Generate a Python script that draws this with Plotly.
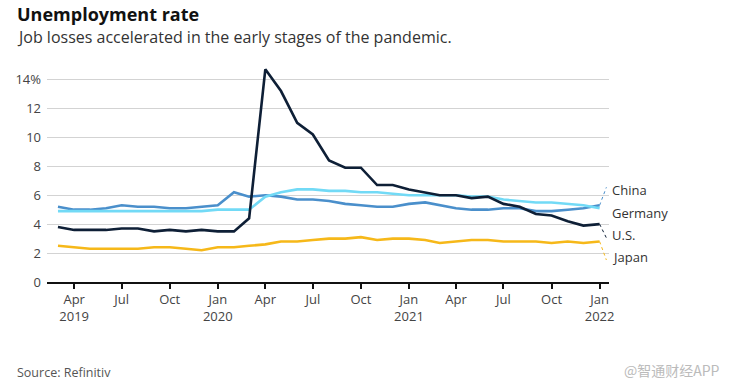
import pandas as pd
import plotly.graph_objects as go

months = pd.date_range("2019-03-01", "2022-01-01", freq="MS")

us = [3.8, 3.6, 3.6, 3.6, 3.7, 3.7, 3.5, 3.6, 3.5, 3.6,
      3.5, 3.5, 4.4, 14.7, 13.2, 11.0, 10.2, 8.4, 7.9, 7.9, 6.7, 6.7,
      6.4, 6.2, 6.0, 6.0, 5.8, 5.9, 5.4, 5.2, 4.7, 4.6, 4.2, 3.9,
      4.0]
china = [5.2, 5.0, 5.0, 5.1, 5.3, 5.2, 5.2, 5.1, 5.1, 5.2,
         5.3, 6.2, 5.9, 6.0, 5.9, 5.7, 5.7, 5.6, 5.4, 5.3, 5.2, 5.2,
         5.4, 5.5, 5.3, 5.1, 5.0, 5.0, 5.1, 5.1, 4.9, 4.9, 5.0, 5.1,
         5.3]
germany = [4.9, 4.9, 4.9, 4.9, 4.9, 4.9, 4.9, 4.9, 4.9, 4.9,
           5.0, 5.0, 5.0, 5.9, 6.2, 6.4, 6.4, 6.3, 6.3, 6.2, 6.2, 6.1,
           6.0, 6.0, 6.0, 6.0, 5.9, 5.9, 5.7, 5.6, 5.5, 5.5, 5.4, 5.3,
           5.1]
japan = [2.5, 2.4, 2.3, 2.3, 2.3, 2.3, 2.4, 2.4, 2.3, 2.2,
         2.4, 2.4, 2.5, 2.6, 2.8, 2.8, 2.9, 3.0, 3.0, 3.1, 2.9, 3.0,
         3.0, 2.9, 2.7, 2.8, 2.9, 2.9, 2.8, 2.8, 2.8, 2.7, 2.8, 2.7,
         2.8]

x_tick_dates = pd.date_range("2019-04-01", "2022-01-01", freq="QS")
x_tick_text = ["Apr<br>2019", "Jul", "Oct", "Jan<br>2020", "Apr", "Jul", "Oct",
               "Jan<br>2021", "Apr", "Jul", "Oct", "Jan<br>2022"]
y_tick_vals = [0, 2, 4, 6, 8, 10, 12, 14]
y_tick_text = ["0", "2", "4", "6", "8", "10", "12", "14%"]

series = [
    ("China", china, "#4a8fcb", 6.35),
    ("Germany", germany, "#72daf6", 4.78),
    ("U.S.", us, "#0e1f36", 3.25),
    ("Japan", japan, "#f6b819", 1.72),
]
draw_order = ["Japan", "China", "Germany", "U.S."]

FONT = "Open Sans"

# plot area spans page x 47..609, y 64.5..282
W, H = 731, 388
PL, PR, PT, PB = 47, 609, 64.5, 282
PW, PH = PR - PL, PB - PT


def px(xp):
    return (xp - PL) / PW


def py(yp):
    return (PB - yp) / PH


fig = go.Figure()
lookup = {s[0]: s for s in series}
for name in draw_order:
    n, vals, col, _ = lookup[name]
    fig.add_trace(go.Scatter(x=months, y=vals, mode="lines", name=n,
                             line=dict(color=col, width=2.6),
                             hoverinfo="skip", showlegend=False))

last = months[-1]
conn_end = last + pd.Timedelta(days=13)
shapes = []
annotations = []
for n, vals, col, label_y in series:
    if n != "Germany":
        shapes.append(dict(type="line", xref="x", yref="y",
                           x0=last, y0=vals[-1], x1=conn_end,
                           y1=label_y + (0.2 if label_y > vals[-1] else -0.2),
                           line=dict(color=col, width=1, dash="dot")))
    annotations.append(dict(xref="x", yref="y", x=last, y=label_y, xshift=10,
                            text=n, showarrow=False, xanchor="left", yanchor="middle",
                            font=dict(family=FONT, size=13, color="#333333")))

annotations += [
    dict(xref="paper", yref="paper", x=px(15), y=py(13), xanchor="left", yanchor="middle",
         text="<b>Unemployment rate</b>", showarrow=False,
         font=dict(family=FONT, size=18, color="#111111")),
    dict(xref="paper", yref="paper", x=px(15), y=py(36), xanchor="left", yanchor="middle",
         text="Job losses accelerated in the early stages of the pandemic.", showarrow=False,
         font=dict(family=FONT, size=16, color="#333333")),
    dict(xref="paper", yref="paper", x=px(15), y=py(373), xanchor="left", yanchor="middle",
         text="Source: Refinitiv", showarrow=False,
         font=dict(family=FONT, size=12.5, color="#555555")),
    dict(xref="paper", yref="paper", x=px(722), y=py(370), xanchor="right", yanchor="middle",
         text="@智通财经APP", showarrow=False,
         font=dict(family="Noto Sans CJK SC", size=14, color="#bbbbbb")),
]

fig.update_layout(
    width=W, height=H,
    margin=dict(l=PL, r=W - PR, t=PT, b=H - PB, pad=0),
    paper_bgcolor="white", plot_bgcolor="white",
    font=dict(family=FONT, color="#444444"),
    shapes=shapes, annotations=annotations,
    xaxis=dict(type="date", range=["2019-02-08", "2022-01-19"],
               tickvals=x_tick_dates, ticktext=x_tick_text,
               showgrid=False, showline=True, linecolor="#111111", linewidth=1.5,
               ticks="outside", ticklen=5, tickwidth=1.5, tickcolor="#111111",
               tickfont=dict(family=FONT, size=13, color="#444444"), zeroline=False),
    yaxis=dict(range=[0, 15], tickvals=y_tick_vals, ticktext=y_tick_text,
               showgrid=True, gridcolor="#d3d3d3", gridwidth=1, zeroline=False,
               showline=False, ticks="", ticklabelstandoff=5,
               tickfont=dict(family=FONT, size=13, color="#444444")),
)

fig.write_html("out.html", config={"displayModeBar": False},
               post_script="document.body.style.margin='0';")
